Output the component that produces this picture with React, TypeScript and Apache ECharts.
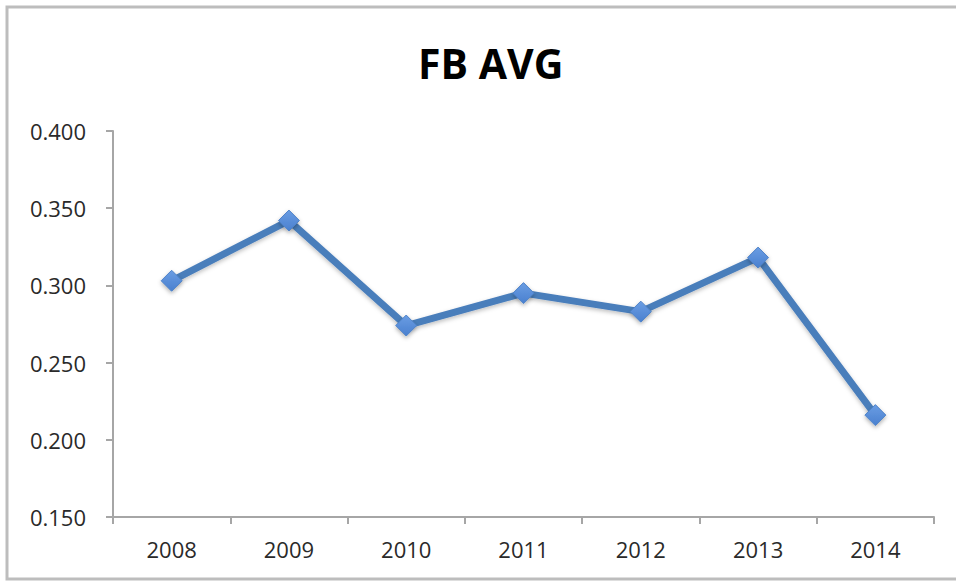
import React, { useEffect, useRef } from "react";
import * as echarts from "echarts";

const title = "FB AVG";
const years = ["2008", "2009", "2010", "2011", "2012", "2013", "2014"];
const fbAvg = [0.303, 0.342, 0.274, 0.295, 0.283, 0.318, 0.216];
const yMin = 0.15;
const yMax = 0.4;
const yStep = 0.05;

export default function App() {
  const ref = useRef<HTMLDivElement>(null);
  useEffect(() => {
    document.body.style.margin = "0";
    if (!ref.current) return;
    const chart = echarts.init(ref.current, null, { renderer: "svg" });
    chart.setOption({
      animation: false,
      backgroundColor: "#ffffff",
      title: {
        text: title,
        left: 413,
        top: 37,
        textStyle: {
          fontFamily: "Open Sans",
          fontWeight: "bold",
          fontSize: 41,
          color: "#000000",
        },
      },
      graphic: [
        {
          type: "rect",
          shape: { x: 7, y: 7, width: 960, height: 572 },
          style: { fill: "none", stroke: "#bdbdbd", lineWidth: 3 },
          silent: true,
          z: 100,
        },
      ],
      grid: { left: 113, right: 22, top: 131, bottom: 65 },
      xAxis: {
        type: "category",
        data: years,
        boundaryGap: true,
        axisLine: { lineStyle: { color: "#a6a6a6", width: 2 } },
        axisTick: { show: true, length: 7, lineStyle: { color: "#a6a6a6", width: 2 } },
        axisLabel: {
          margin: 21,
          fontFamily: "Open Sans",
          fontSize: 22,
          color: "#2a2a2a",
        },
      },
      yAxis: {
        type: "value",
        min: yMin,
        max: yMax,
        interval: yStep,
        axisLine: { show: true, lineStyle: { color: "#a6a6a6", width: 2 } },
        axisTick: { show: true, length: 7, lineStyle: { color: "#a6a6a6", width: 2 } },
        splitLine: { show: false },
        axisLabel: {
          margin: 27,
          fontFamily: "Open Sans",
          fontSize: 22,
          color: "#2a2a2a",
          formatter: (v: number) => v.toFixed(3),
        },
      },
      series: [
        {
          type: "line",
          data: fbAvg,
          symbol: "diamond",
          symbolSize: 21,
          lineStyle: {
            color: "#4a7ebb",
            width: 7,
            shadowColor: "rgba(0,0,0,0.25)",
            shadowBlur: 4,
            shadowOffsetY: 2,
          },
          itemStyle: {
            color: new echarts.graphic.LinearGradient(0, 0, 0, 1, [
              { offset: 0, color: "#6a9de3" },
              { offset: 1, color: "#4a80cf" },
            ]),
            borderColor: "#4f83c8",
            borderWidth: 1,
            shadowColor: "rgba(0,0,0,0.3)",
            shadowBlur: 4,
            shadowOffsetY: 2,
          },
        },
      ],
    });
    return () => chart.dispose();
  }, []);
  return <div ref={ref} style={{ width: 956, height: 582 }} />;
}
